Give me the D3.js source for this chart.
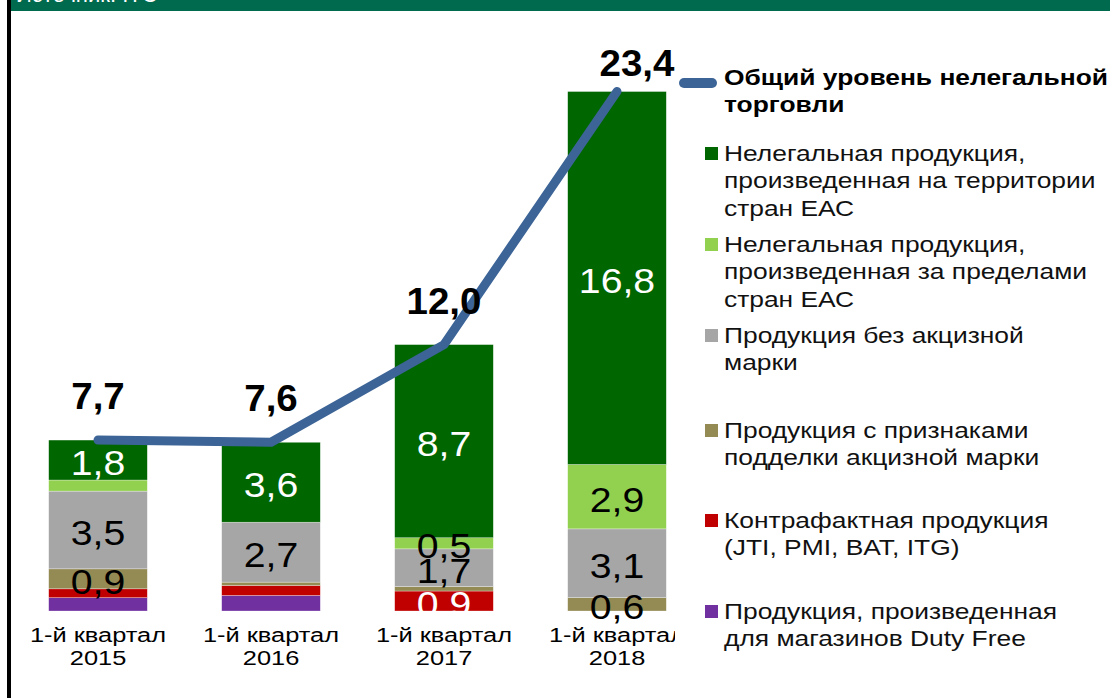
<!DOCTYPE html>
<html>
<head>
<meta charset="utf-8">
<script src="https://cdn.jsdelivr.net/npm/d3@7"></script>
<style>
  body { margin: 0; background: #fff; }
  svg { display: block; font-family: "Liberation Sans", Arial, sans-serif; }
</style>
</head>
<body>
<svg width="1110" height="698"></svg>
<script>
// data (млрд сигарет, 1-й квартал)
const years = ['2015', '2016', '2017', '2018'];
const quarterLabel = '1-й квартал';

const dutyFree    = [0.6, 0.7, 0, 0];
const counterfeit = [0.4, 0.45, 0.9, 0];
const fakeStamp   = [0.9, 0.15, 0.2, 0.6];
const noStamp     = [3.5, 2.7, 1.7, 3.1];
const outsideEAC  = [0.5, 0, 0.5, 2.9];
const insideEAC   = [1.8, 3.6, 8.7, 16.8];
const totals      = [7.7, 7.6, 12.0, 23.4];

// which segment labels the original does not print
const hiddenLabels = ['outsideEAC-2015', 'dutyFree-2015', 'counterfeit-2015',
                      'fakeStamp-2016', 'counterfeit-2016', 'dutyFree-2016', 'fakeStamp-2017'];

const lineName = ['Общий уровень нелегальной', 'торговли'];
const seriesNames = {
    insideEAC:   ['Нелегальная продукция,', 'произведенная на территории', 'стран ЕАС'],
    outsideEAC:  ['Нелегальная продукция,', 'произведенная за пределами', 'стран ЕАС'],
    noStamp:     ['Продукция без акцизной', 'марки'],
    fakeStamp:   ['Продукция с признаками', 'подделки акцизной марки'],
    counterfeit: ['Контрафактная продукция', '(JTI, PMI, BAT, ITG)'],
    dutyFree:    ['Продукция, произведенная', 'для магазинов Duty Free'],
};

// bottom to top
const stackKeys = ['dutyFree', 'counterfeit', 'fakeStamp', 'noStamp', 'outsideEAC', 'insideEAC'];
const legendKeys = ['insideEAC', 'outsideEAC', 'noStamp', 'fakeStamp', 'counterfeit', 'dutyFree'];

const colors = {
    insideEAC: '#006600',
    outsideEAC: '#92d050',
    noStamp: '#a6a6a6',
    fakeStamp: '#948a54',
    counterfeit: '#c00000',
    dutyFree: '#7030a0',
};
const labelColor = { insideEAC: '#fff', counterfeit: '#fff' };
const lineColor = '#3c6497';

const values = { dutyFree, counterfeit, fakeStamp, noStamp, outsideEAC, insideEAC };
const table = years.map((yr, i) => {
    const row = { year: yr };
    stackKeys.forEach(k => row[k] = values[k][i]);
    return row;
});

const svg = d3.select('svg');

// source header strip and left frame
svg.append('rect').attr('x', 11).attr('y', 0).attr('width', 1099).attr('height', 11).attr('fill', '#006a4e');
svg.append('text')
    .attr('x', 16).attr('y', 2)
    .attr('fill', '#fff').attr('font-size', 22)
    .text('Источник: ITC');
svg.append('rect').attr('x', 7).attr('y', 0).attr('width', 4).attr('height', 698).attr('fill', '#000');

const x = d3.scaleBand()
    .domain(years)
    .range([11.5, 703.5])
    .paddingInner(0.43)
    .paddingOuter(0.215);

const y = d3.scaleLinear()
    .domain([0, 25])
    .range([611, 611 - 25 * 22.2]);

// stretched text helper (the source picture is widened)
function stretched(sel, sx) {
    return sel.attr('transform', function () {
        const t = d3.select(this);
        return `translate(${t.attr('data-x')},${t.attr('data-y')}) scale(${sx},1)`;
    });
}

const stack = d3.stack().keys(stackKeys)(table);

const layers = svg.append('g').attr('class', 'bars')
    .selectAll('g')
    .data(stack)
    .join('g')
    .attr('fill', d => colors[d.key]);

layers.selectAll('rect')
    .data(d => d)
    .join('rect')
    .attr('x', d => x(d.data.year))
    .attr('width', x.bandwidth())
    .attr('y', d => y(d[1]))
    .attr('height', d => y(d[0]) - y(d[1]))
    .attr('stroke', '#fff')
    .attr('stroke-width', 0.6)
    .attr('stroke-opacity', 0.5);

// segment value labels
const segLabels = svg.append('g').attr('class', 'seg-labels');
stack.forEach(layer => {
    layer.forEach(d => {
        const v = d[1] - d[0];
        if (v <= 0 || hiddenLabels.includes(`${layer.key}-${d.data.year}`)) return;
        segLabels.append('text')
            .attr('data-x', x(d.data.year) + x.bandwidth() / 2)
            .attr('data-y', (y(d[0]) + y(d[1])) / 2 + 15)
            .attr('text-anchor', 'middle')
            .attr('font-size', 36)
            .attr('fill', labelColor[layer.key] || '#000')
            .text(d3.format('.1f')(v).replace('.', ','));
    });
});
stretched(segLabels.selectAll('text'), 1.09);

// total line
const line = d3.line()
    .x((d, i) => x(years[i]) + x.bandwidth() / 2)
    .y(d => y(d));

svg.append('path')
    .datum(totals)
    .attr('d', line)
    .attr('fill', 'none')
    .attr('stroke', lineColor)
    .attr('stroke-width', 9)
    .attr('stroke-linecap', 'round')
    .attr('stroke-linejoin', 'round');

// total labels; the last one is nudged up-right in the original
const totalNudge = [[0, -31], [0, -31], [0, -31], [20, -16]];
const totalLabels = svg.append('g').attr('class', 'totals')
    .selectAll('text')
    .data(totals)
    .join('text')
    .attr('data-x', (d, i) => x(years[i]) + x.bandwidth() / 2 + totalNudge[i][0])
    .attr('data-y', (d, i) => y(d) + totalNudge[i][1])
    .attr('text-anchor', 'middle')
    .attr('font-size', 37)
    .attr('font-weight', 'bold')
    .attr('fill', '#000')
    .text(d => d3.format('.1f')(d).replace('.', ','));
stretched(totalLabels, 1.04);

// category labels
svg.append('clipPath').attr('id', 'axclip')
    .append('rect').attr('x', 0).attr('y', 600).attr('width', 675).attr('height', 98);

const axis = svg.append('g').attr('clip-path', 'url(#axclip)')
    .selectAll('text')
    .data(years)
    .join('text')
    .attr('data-x', d => x(d) + x.bandwidth() / 2)
    .attr('data-y', 642)
    .attr('text-anchor', 'middle')
    .attr('font-size', 20)
    .attr('fill', '#000');
axis.append('tspan').attr('x', 0).text(quarterLabel);
axis.append('tspan').attr('x', 0).attr('dy', 23).text(d => d);
stretched(axis, 1.27);

// legend
const legend = svg.append('g').attr('class', 'legend');
const legendY = [85, 161, 252, 343, 438, 528, 619];
const legendX = 724;
const lineGap = 27.5;

legend.append('line')
    .attr('x1', 684).attr('x2', 712)
    .attr('y1', legendY[0] - 2).attr('y2', legendY[0] - 2)
    .attr('stroke', lineColor)
    .attr('stroke-width', 10)
    .attr('stroke-linecap', 'round');

const title = legend.append('text')
    .attr('data-x', legendX).attr('data-y', legendY[0])
    .attr('font-size', 22)
    .attr('font-weight', 'bold')
    .attr('fill', '#000');
lineName.forEach((t, i) => title.append('tspan').attr('x', 0).attr('dy', i ? lineGap : 0).text(t));

legendKeys.forEach((k, i) => {
    const by = legendY[i + 1];
    legend.append('rect')
        .attr('x', 705).attr('y', by - 14)
        .attr('width', 13).attr('height', 13)
        .attr('fill', colors[k]);
    const t = legend.append('text')
        .attr('class', 'item')
        .attr('data-x', legendX).attr('data-y', by)
        .attr('font-size', 22)
        .attr('fill', '#111');
    seriesNames[k].forEach((s, j) => t.append('tspan').attr('x', 0).attr('dy', j ? lineGap : 0).text(s));
});
stretched(legend.selectAll('text'), 1.2);
</script>
</body>
</html>
